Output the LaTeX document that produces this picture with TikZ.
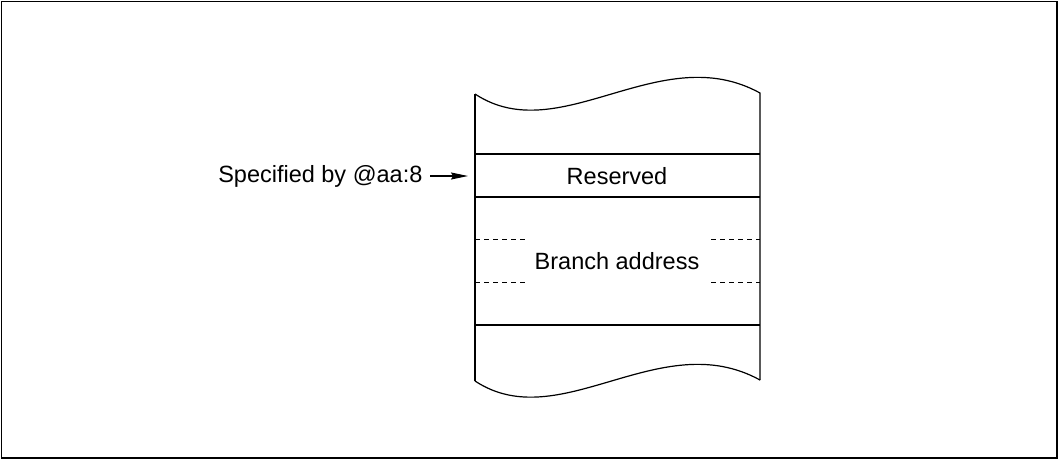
\documentclass[tikz,border=0pt]{standalone}
\usepackage{fontspec}
\setmainfont{Liberation Sans}
\usetikzlibrary{arrows.meta}

\begin{document}
\begin{tikzpicture}[x=1pt,y=-1pt,
        line width=1.2pt,
        label/.style={font=\fontsize{23.5}{28}\selectfont,inner sep=0pt},
        guide/.style={dashed,line width=0.9pt,dash pattern=on 5pt off 4pt}]
        \useasboundingbox (0,0) rectangle (1064,461);
        % Outer frame
        \draw[line width=1.5pt] (1.5,1.5) rectangle (1057,458);
        % The memory block with torn ends
        \draw (475,94) .. controls (560,150) and (660,38) .. (760,93)
            -- (760,380);
        \draw (475,381) .. controls (560,437) and (660,325) .. (760,380);
        \draw (475,94) -- (475,381);
        % Divide the block
        \draw (475,154) -- (760,154);
        \draw (475,197) -- (760,197);
        \draw (475,325) -- (760,325);
        \draw[guide] (475,239) -- (525,239);
        \draw[guide] (475,282) -- (525,282);
        \draw[guide] (711,239) -- (760,239);
        \draw[guide] (711,282) -- (760,282);
        % Label the areas
        \node[label] (res) at (617,176) {Reserved};
        \node[label] (branch) at (617,261) {Branch address};
        % Show where the vector is taken from
        \node[label,anchor=east] (spec) at (423,176) {Specified by @aa:8};
        \coordinate (entry) at (468,176);
        \draw[-{Stealth[length=17pt,width=7pt,inset=2pt]}] (spec.east) ++(7,0) -- (entry);
    \end{tikzpicture}
\end{document}
